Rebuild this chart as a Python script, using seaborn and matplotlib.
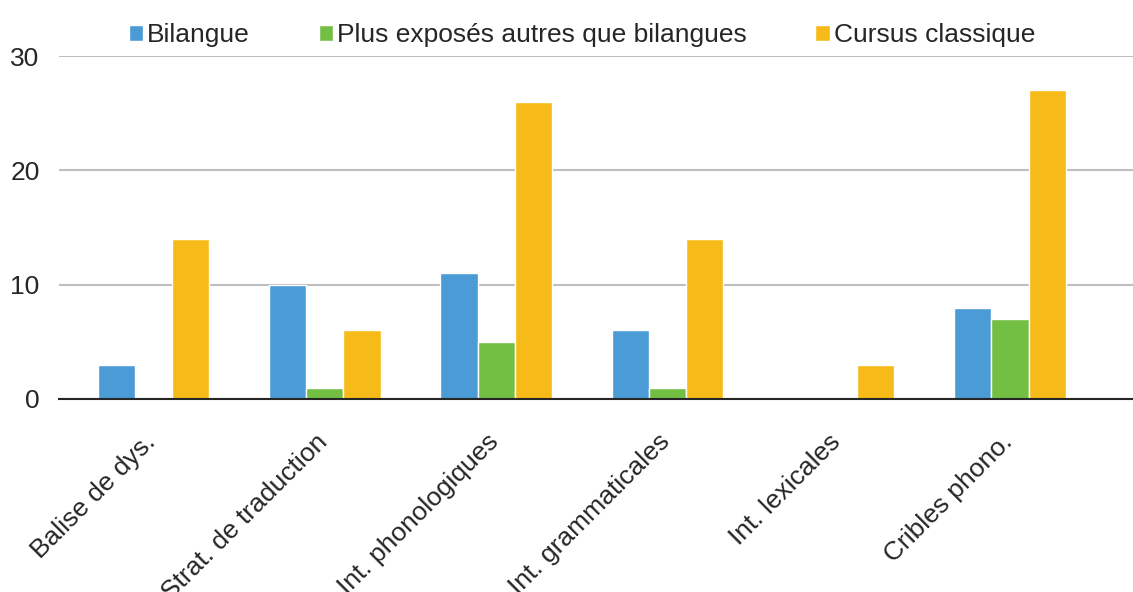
import pandas as pd
import numpy as np
import matplotlib
matplotlib.use('Agg')
import matplotlib.pyplot as plt
import matplotlib.transforms as mtransforms
import seaborn as sns

sns.set_style('white')
plt.rcParams['font.family'] = ['Liberation Sans', 'DejaVu Sans']

categories = ['Balise de dys.', 'Strat. de traduction', 'Int. phonologiques',
              'Int. grammaticales', 'Int. lexicales', 'Cribles phono.']
series = ['Bilangue', 'Plus exposés autres que bilangues', 'Cursus classique']
bilangue = [3, 10, 11, 6, 0, 8]
plus_exposes = [0, 1, 5, 1, 0, 7]
cursus = [14, 6, 26, 14, 3, 27]
colors = ['#4A9BD6', '#72BF44', '#F6BB18']

df = pd.DataFrame({'cat': categories, series[0]: bilangue,
                   series[1]: plus_exposes, series[2]: cursus})
long = pd.melt(df, id_vars=['cat'], var_name='serie', value_name='val')

fig = plt.figure(figsize=(11.33, 5.92), dpi=100)
ax = fig.add_axes([59/1133, 1-399/592, 1-59/1133, (399-56)/592])

sns.barplot(data=long, x='cat', y='val', hue='serie', palette=colors,
            saturation=1, width=0.65, edgecolor='white', linewidth=1.0, ax=ax)

ax.set_xlim(-0.552, 5.718)
ax.set_ylim(0, 30)
ax.set_yticks([0, 10, 20, 30])
ax.yaxis.grid(True, color='#BFBFBF', linewidth=1.5)
ax.set_axisbelow(True)
for s in ['top', 'right', 'left']:
    ax.spines[s].set_visible(False)
ax.spines['bottom'].set_color('#262626')
ax.spines['bottom'].set_linewidth(1.5)
ax.set_xlabel('')
ax.set_ylabel('')
ax.tick_params(axis='both', length=0, labelsize=19, colors='#262626')
ax.tick_params(axis='y', pad=14)
ax.tick_params(axis='x', pad=22)
offset = mtransforms.ScaledTransform = mtransforms.ScaledTranslation(-10/100, 0, fig.dpi_scale_trans)
for lab in ax.get_xticklabels():
    lab.set_rotation(45)
    lab.set_ha('right')
    lab.set_va('top')
    lab.set_rotation_mode('anchor')
    lab.set_transform(lab.get_transform() + offset)

ax.legend(loc='upper center', bbox_to_anchor=(0.487, 1.165), ncol=3,
          frameon=False, fontsize=19, handlelength=0.55, handleheight=0.55,
          handletextpad=0.15, columnspacing=2.6, labelcolor='#262626')

fig.savefig('out.png', dpi=100)
